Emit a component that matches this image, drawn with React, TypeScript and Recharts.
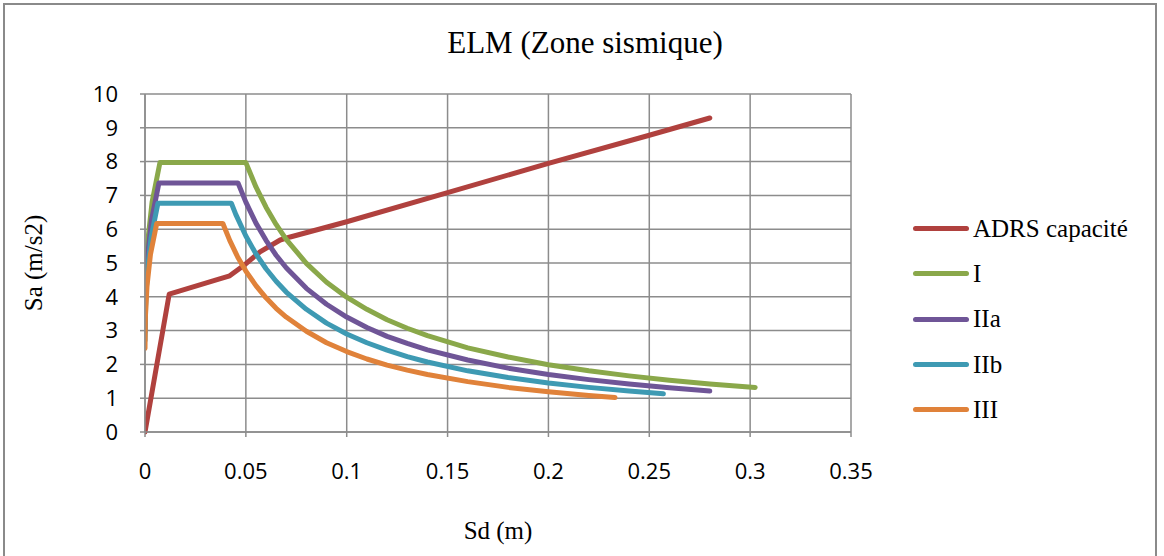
import { LineChart, Line, XAxis, YAxis, CartesianGrid, Label } from 'recharts';

// Sd (m) / Sa (m/s2) pairs
const capacite = [
  [0, 0], [0.012, 4.08], [0.037, 4.53], [0.042, 4.62], [0.0486, 4.91], [0.057, 5.33],
  [0.067, 5.68], [0.072, 5.77], [0.1, 6.22], [0.15, 7.08], [0.2, 7.95], [0.25, 8.78], [0.28, 9.29]
];
const zoneI = [
  [0, 3.2], [0.0003, 4.4], [0.0013, 5.6], [0.0035, 6.8], [0.0074, 7.97], [0.05, 7.97],
  [0.055, 7.25], [0.06, 6.65], [0.065, 6.14], [0.07, 5.7], [0.08, 4.99], [0.09, 4.43],
  [0.1, 3.99], [0.11, 3.63], [0.12, 3.32], [0.13, 3.07], [0.14, 2.85], [0.16, 2.49],
  [0.18, 2.22], [0.2, 1.99], [0.22, 1.81], [0.24, 1.66], [0.26, 1.53], [0.28, 1.42], [0.3025, 1.32]
];
const zoneIIa = [
  [0, 2.95], [0.0003, 4.05], [0.0012, 5.16], [0.0032, 6.26], [0.0069, 7.37], [0.0461, 7.37],
  [0.05, 6.8], [0.055, 6.18], [0.06, 5.67], [0.065, 5.23], [0.07, 4.86], [0.08, 4.25],
  [0.09, 3.78], [0.1, 3.4], [0.11, 3.09], [0.12, 2.83], [0.13, 2.62], [0.14, 2.43],
  [0.16, 2.13], [0.18, 1.89], [0.2, 1.7], [0.22, 1.55], [0.24, 1.42], [0.26, 1.31], [0.28, 1.21]
];
const zoneIIb = [
  [0, 2.7], [0.0003, 3.72], [0.0011, 4.74], [0.003, 5.75], [0.0064, 6.77], [0.0428, 6.77],
  [0.045, 6.44], [0.05, 5.8], [0.055, 5.27], [0.06, 4.83], [0.065, 4.46], [0.07, 4.14],
  [0.08, 3.63], [0.09, 3.22], [0.1, 2.9], [0.11, 2.64], [0.12, 2.42], [0.13, 2.23],
  [0.14, 2.07], [0.16, 1.81], [0.18, 1.61], [0.2, 1.45], [0.22, 1.32], [0.24, 1.21], [0.257, 1.13]
];
const zoneIII = [
  [0, 2.47], [0.0002, 3.4], [0.001, 4.32], [0.0027, 5.25], [0.0058, 6.17], [0.0386, 6.17],
  [0.042, 5.67], [0.046, 5.17], [0.05, 4.76], [0.055, 4.33], [0.06, 3.97], [0.065, 3.66],
  [0.07, 3.4], [0.08, 2.98], [0.09, 2.64], [0.1, 2.38], [0.11, 2.16], [0.12, 1.98],
  [0.13, 1.83], [0.14, 1.7], [0.16, 1.49], [0.18, 1.32], [0.2, 1.19], [0.22, 1.08], [0.233, 1.02]
];

const xTicks = [0, 0.05, 0.1, 0.15, 0.2, 0.25, 0.3, 0.35];
const yTicks = [0, 1, 2, 3, 4, 5, 6, 7, 8, 9, 10];

const series = [
  { name: 'ADRS capacité', points: capacite, color: '#b0413e' },
  { name: 'I', points: zoneI, color: '#8aa84a' },
  { name: 'IIa', points: zoneIIa, color: '#6f5597' },
  { name: 'IIb', points: zoneIIb, color: '#3e9ab3' },
  { name: 'III', points: zoneIII, color: '#e0823a' }
];

const toRows = (pts: number[][]) => pts.map(([sd, sa]) => ({ sd, sa }));

const serif = '"Liberation Serif", "Times New Roman", serif';
const sans = '"Open Sans", "Noto Sans", sans-serif';
const gridColor = '#8c8c8c';

function LegendBox() {
  return (
    <div style={{ position: 'absolute', left: 913, top: 206, fontFamily: serif, fontSize: 25, color: '#000' }}>
      {series.map((s) => (
        <div key={s.name} style={{ display: 'flex', alignItems: 'center', height: 45.3 }}>
          <div style={{ width: 56, height: 5, borderRadius: 3, background: s.color, marginRight: 4 }} />
          <span>{s.name}</span>
        </div>
      ))}
    </div>
  );
}

export default function App() {
  return (
    <div style={{ position: 'absolute', left: 0, top: 0, width: 1164, height: 556, overflow: 'hidden', background: '#fff' }}>
      <div
        style={{
          position: 'absolute', left: 3, top: 3, width: 1154, height: 570,
          border: '2px solid #8a8a8a', boxSizing: 'border-box'
        }}
      />
      <div
        style={{
          position: 'absolute', left: 0, top: 25, width: 1170, textAlign: 'center',
          fontFamily: serif, fontSize: 31, color: '#000'
        }}
      >
        ELM (Zone sismique)
      </div>
      <div style={{ position: 'absolute', left: 0, top: 0 }}>
        <LineChart width={1164} height={556} margin={{ top: 94, right: 313, bottom: 0, left: 0 }}>
          <CartesianGrid stroke={gridColor} strokeWidth={1.5} />
          <XAxis
            type="number"
            dataKey="sd"
            domain={[0, 0.35]}
            ticks={xTicks}
            allowDataOverflow
            height={124}
            stroke={gridColor}
            strokeWidth={1.5}
            tickSize={5}
            tickMargin={26}
            tick={{ fill: '#000', fontSize: 22, fontFamily: sans }}
          >
            <Label
              value="Sd (m)"
              position="insideBottom"
              offset={17}
              style={{ fontFamily: serif, fontSize: 25, fill: '#000' }}
            />
          </XAxis>
          <YAxis
            type="number"
            domain={[0, 10]}
            ticks={yTicks}
            interval={0}
            width={145}
            stroke={gridColor}
            strokeWidth={1.5}
            tickSize={5}
            tickMargin={22}
            tick={{ fill: '#000', fontSize: 22, fontFamily: sans }}
          >
            <Label
              value="Sa (m/s2)"
              angle={-90}
              position="insideLeft"
              offset={33}
              style={{ fontFamily: serif, fontSize: 25, fill: '#000', textAnchor: 'middle' }}
            />
          </YAxis>
          {series.map((s) => (
            <Line
              key={s.name}
              name={s.name}
              data={toRows(s.points)}
              dataKey="sa"
              type="linear"
              stroke={s.color}
              strokeWidth={5}
              strokeLinecap="round"
              strokeLinejoin="round"
              dot={false}
              activeDot={false}
              isAnimationActive={false}
            />
          ))}
        </LineChart>
      </div>
      <LegendBox />
    </div>
  );
}
